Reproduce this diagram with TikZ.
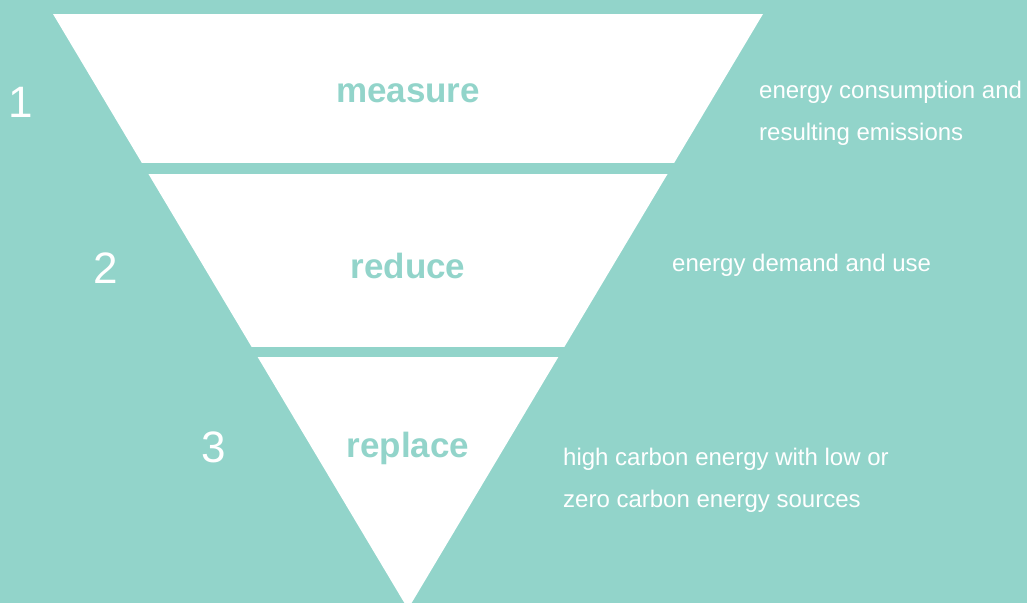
\documentclass[tikz,border=0pt]{standalone}
\usepackage{fontspec}
\setmainfont{Liberation Sans}
\definecolor{tealbg}{HTML}{92D4CA}
\tikzset{
  band/.style={fill=white},
  gap/.style={fill=tealbg},
  stage/.style={text=tealbg, font=\bfseries\fontsize{35}{40}\selectfont, inner sep=0pt},
  num/.style={text=white, font=\fontsize{44}{50}\selectfont, inner sep=0pt},
  desc/.style={text=white, font=\fontsize{24}{42}\selectfont, align=left, anchor=west, inner sep=0pt},
}
\begin{document}
\begin{tikzpicture}[x=1pt,y=-1pt]
\fill[tealbg] (0,0) rectangle (1027,603);
\useasboundingbox (0,0) rectangle (1027,603);
\begin{scope}
\clip (0,0) rectangle (1027,603);
\fill[band] (53,14) -- (763,14) -- (408,609) -- cycle;
\fill[gap] (0,163) rectangle (1027,174);
\fill[gap] (0,347) rectangle (1027,357);
\end{scope}
\node[stage] (s1) at (408,93) {measure};
\node[stage] (s2) at (408,266) {reduce};
\node[stage] (s3) at (408,448) {replace};
\node[num] (n1) at (21,102) {1};
\node[num] (n2) at (106,268) {2};
\node[num] (n3) at (214,447) {3};
\node[desc] (d1) at (759,113) {energy consumption and\\resulting emissions};
\node[desc] (d2) at (672,265) {energy demand and use};
\node[desc] (d3) at (563,480) {high carbon energy with low or\\zero carbon energy sources};
\end{tikzpicture}
\end{document}
